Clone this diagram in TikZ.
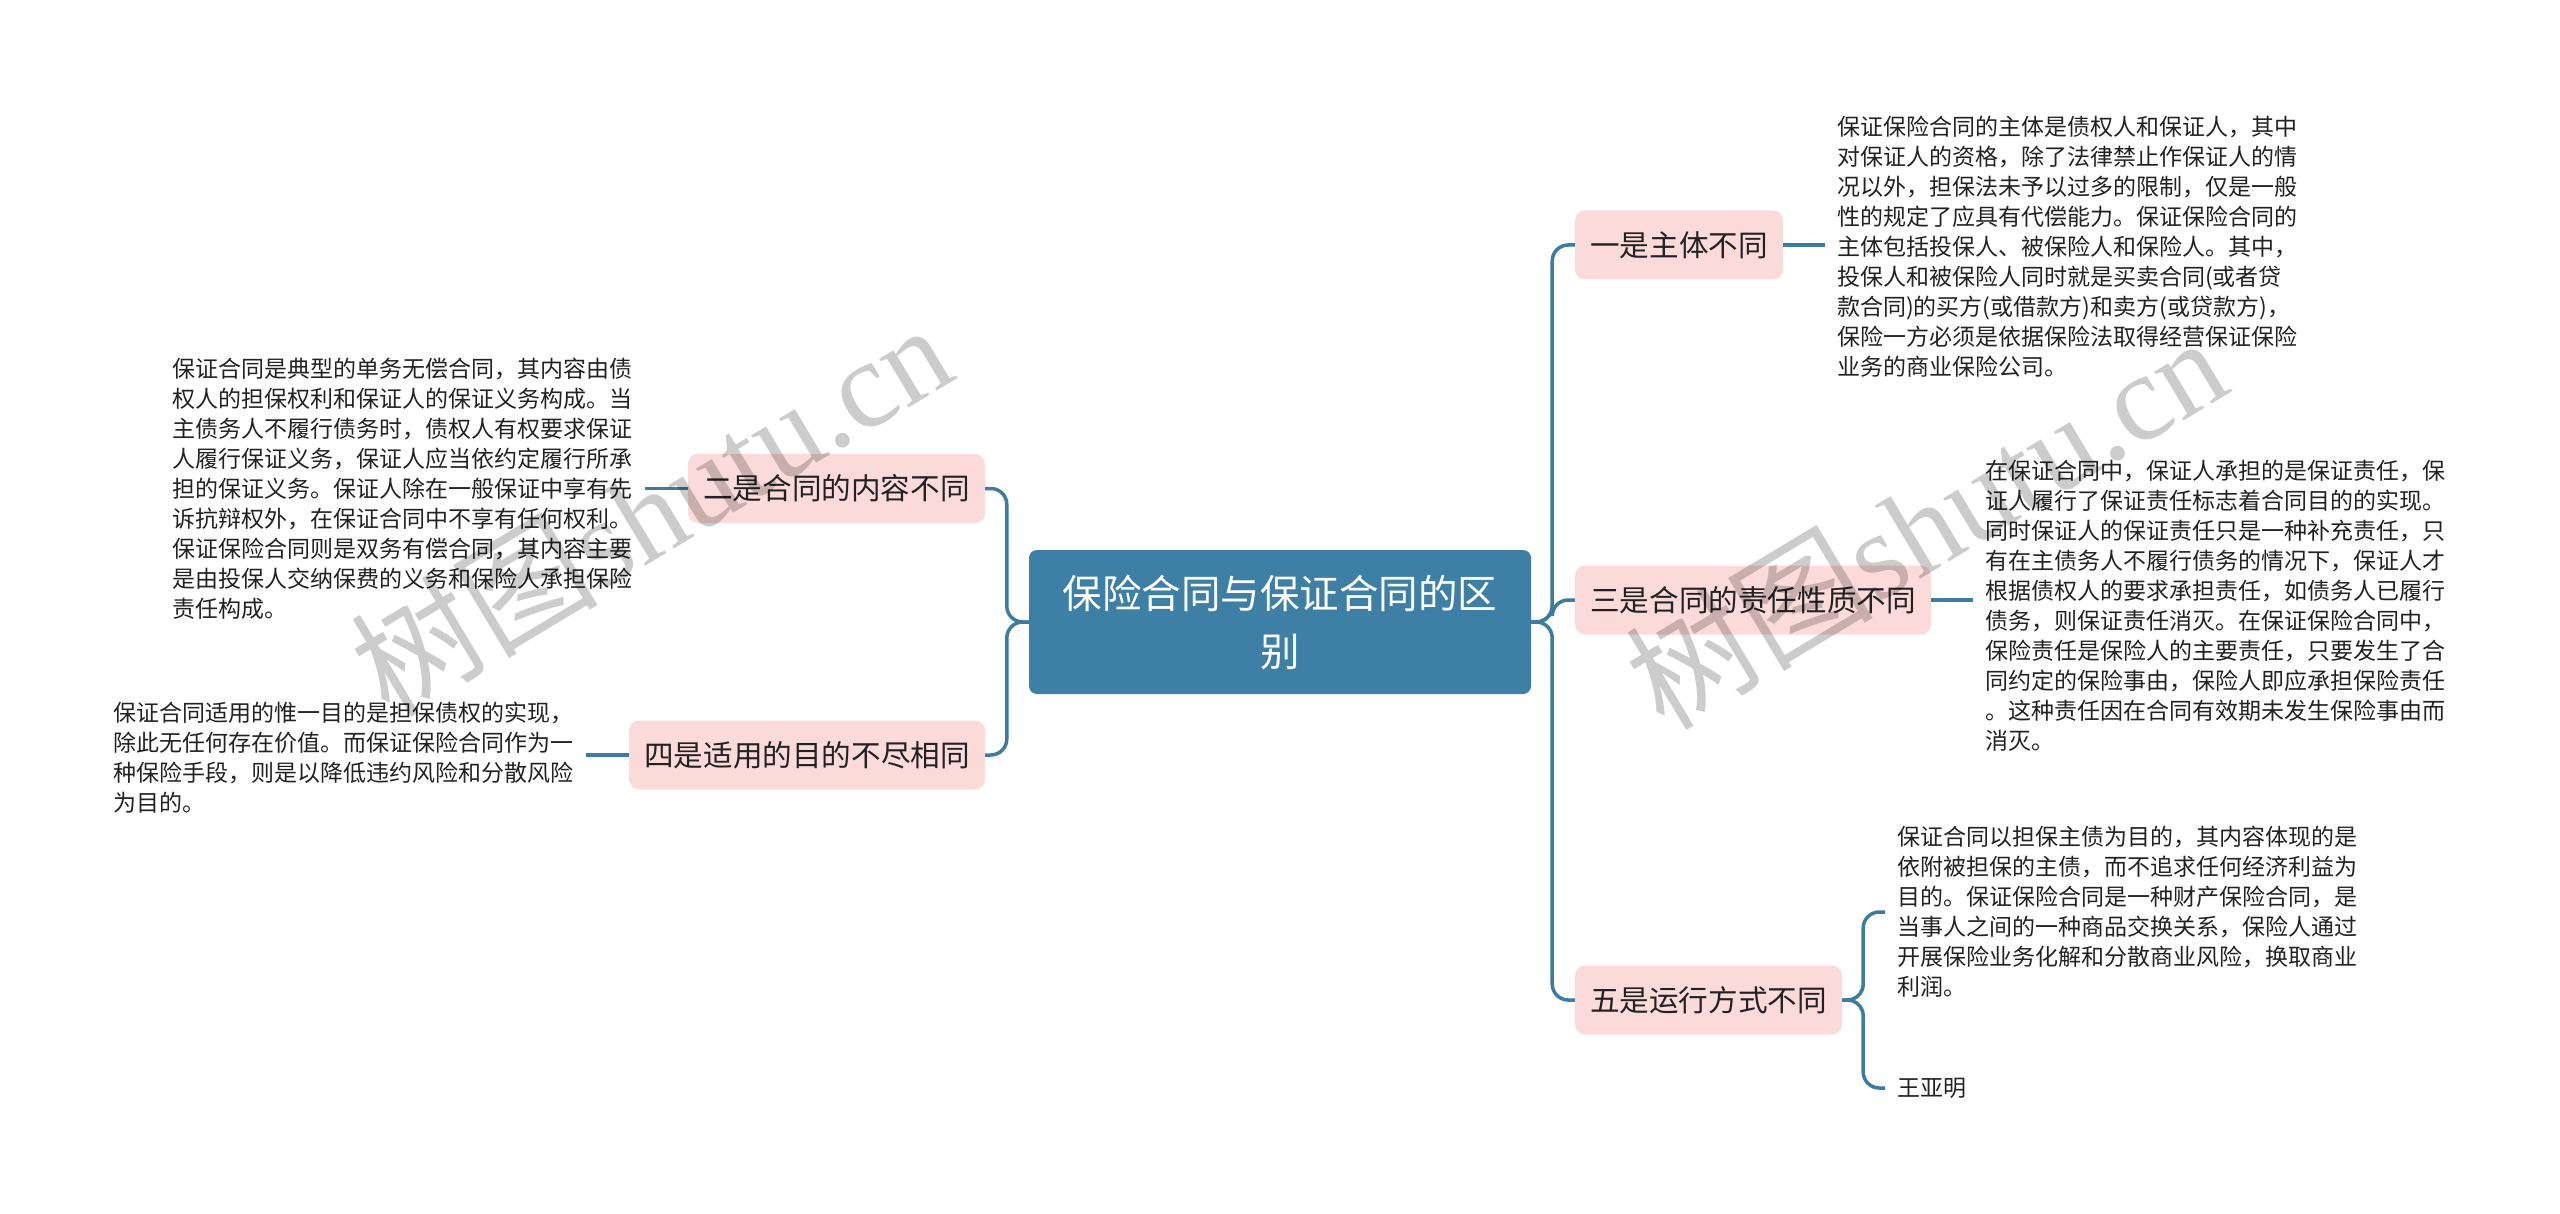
\documentclass[tikz,border=0pt]{standalone}
\usepackage{fontspec}
\setmainfont{Noto Sans CJK SC}
\newfontfamily\wmlatin{Liberation Serif}
\definecolor{lineblue}{RGB}{61,124,160}
\definecolor{rootblue}{RGB}{62,127,166}
\definecolor{pinkfill}{RGB}{250,219,217}
\definecolor{textdark}{RGB}{34,34,34}
\begin{document}
\begin{tikzpicture}[x=1pt,y=-1pt,
  conn/.style={draw=lineblue, line width=3.5pt, rounded corners=16pt},
  topicbox/.style={fill=pinkfill, rounded corners=10pt, minimum height=69pt, inner sep=0pt, font=\fontsize{29.6}{36}\selectfont, text=textdark},
  leaftext/.style={align=left, inner xsep=12pt, inner ysep=0pt, font=\fontsize{23}{30}\selectfont, text=textdark},
  rootbox/.style={fill=rootblue, rounded corners=8pt, inner sep=0pt, align=center, text=white, font=\fontsize{39.5}{58}\selectfont},
  wmark/.style={text=black, opacity=0.2, font=\fontsize{124}{124}\selectfont, inner sep=0pt}
]
\fill[white] (0,0) rectangle (2560,1214);
\useasboundingbox (0,0) rectangle (2560,1214);

% root
\node[rootbox, minimum width=502pt, minimum height=144pt] (c) at (1280,622) {保险合同与保证合同的区\\别};

% topics right
\node[topicbox, minimum width=208pt] (b1) at (1679,245) {一是主体不同};
\node[topicbox, minimum width=356pt] (b3) at (1753,600) {三是合同的责任性质不同};
\node[topicbox, minimum width=267pt] (b5) at (1708.5,1000) {五是运行方式不同};
% topics left
\node[topicbox, minimum width=297pt] (b2) at (836.5,488.5) {二是合同的内容不同};
\node[topicbox, minimum width=356pt] (b4) at (807,755) {四是适用的目的不尽相同};

% leaf texts
\node[leaftext, anchor=west] (t1) at (1825,247) {保证保险合同的主体是债权人和保证人，其中\\对保证人的资格，除了法律禁止作保证人的情\\况以外，担保法未予以过多的限制，仅是一般\\性的规定了应具有代偿能力。保证保险合同的\\主体包括投保人、被保险人和保险人。其中，\\投保人和被保险人同时就是买卖合同(或者贷\\款合同)的买方(或借款方)和卖方(或贷款方)，\\保险一方必须是依据保险法取得经营保证保险\\业务的商业保险公司。};
\node[leaftext, anchor=west] (t3) at (1973,606) {在保证合同中，保证人承担的是保证责任，保\\证人履行了保证责任标志着合同目的的实现。\\同时保证人的保证责任只是一种补充责任，只\\有在主债务人不履行债务的情况下，保证人才\\根据债权人的要求承担责任，如债务人已履行\\债务，则保证责任消灭。在保证保险合同中，\\保险责任是保险人的主要责任，只要发生了合\\同约定的保险事由，保险人即应承担保险责任\\。这种责任因在合同有效期未发生保险事由而\\消灭。};
\node[leaftext, anchor=west] (t5) at (1885,912) {保证合同以担保主债为目的，其内容体现的是\\依附被担保的主债，而不追求任何经济利益为\\目的。保证保险合同是一种财产保险合同，是\\当事人之间的一种商品交换关系，保险人通过\\开展保险业务化解和分散商业风险，换取商业\\利润。};
\node[leaftext, anchor=west] (w5) at (1885,1088) {王亚明};
\node[leaftext, anchor=east] (t2) at (645,488.5) {保证合同是典型的单务无偿合同，其内容由债\\权人的担保权利和保证人的保证义务构成。当\\主债务人不履行债务时，债权人有权要求保证\\人履行保证义务，保证人应当依约定履行所承\\担的保证义务。保证人除在一般保证中享有先\\诉抗辩权外，在保证合同中不享有任何权利。\\保证保险合同则是双务有偿合同，其内容主要\\是由投保人交纳保费的义务和保险人承担保险\\责任构成。};
\node[leaftext, anchor=east] (t4) at (586,758) {保证合同适用的惟一目的是担保债权的实现，\\除此无任何存在价值。而保证保险合同作为一\\种保险手段，则是以降低违约风险和分散风险\\为目的。};

% connectors root -> topics
\draw[conn] (c.east) -- ++(21,0) |- (b1.west);
\draw[conn] (c.east) -- ++(21,0) |- (b3.west);
\draw[conn] (c.east) -- ++(21,0) |- (b5.west);
\draw[conn] (c.west) -- ++(-22,0) |- (b2.east);
\draw[conn] (c.west) -- ++(-22,0) |- (b4.east);

% connectors topics -> leaves
\draw[conn] (b1.east) -- (b1.east -| t1.west);
\draw[conn] (b3.east) -- (b3.east -| t3.west);
\draw[conn] (b2.west) -- (b2.west -| t2.east);
\draw[conn] (b4.west) -- (b4.west -| t4.east);
\draw[conn] (b5.east) -- ++(21,0) |- (t5.west);
\draw[conn] (b5.east) -- ++(21,0) |- (w5.west);

% watermarks
\node[wmark, rotate=31] (wm1) at (650,508) {树图\wmlatin shutu.cn};
\node[wmark, rotate=31] (wm2) at (1925,521) {树图\wmlatin shutu.cn};
\end{tikzpicture}
\end{document}
